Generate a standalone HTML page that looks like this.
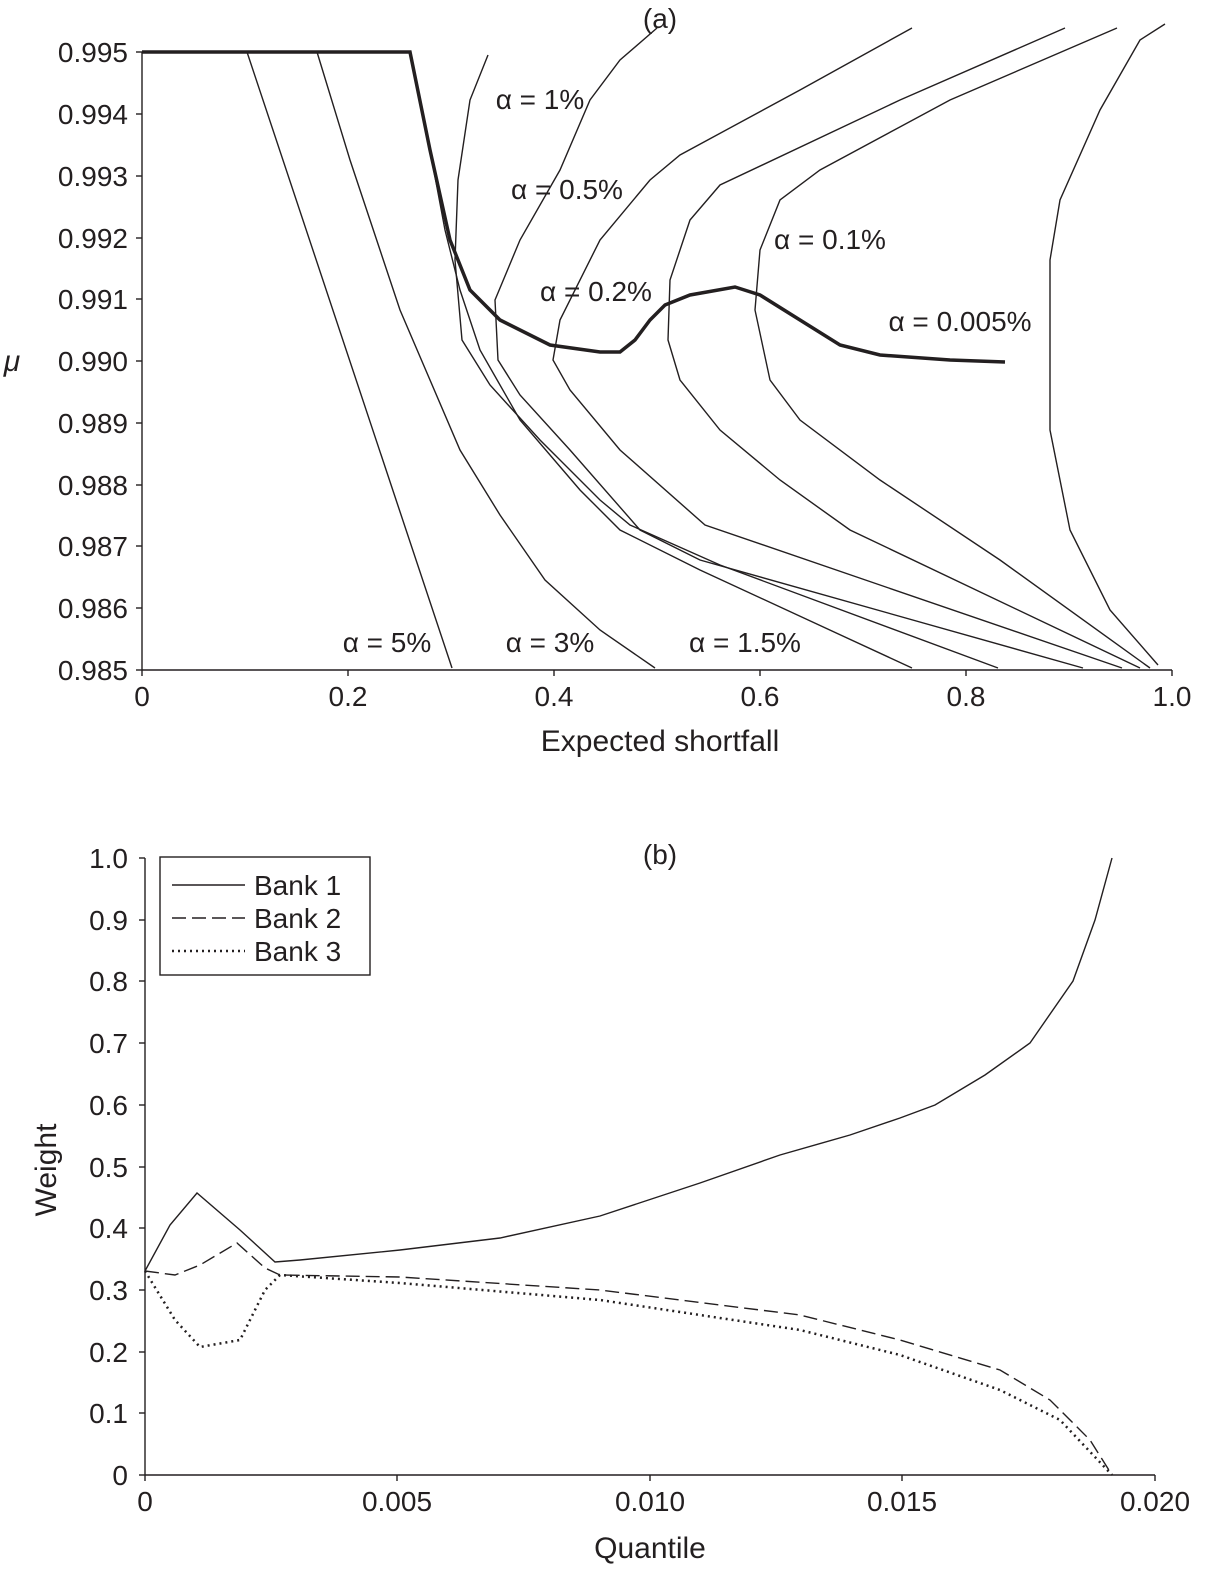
<!DOCTYPE html>
<html><head><meta charset="utf-8"><style>
html,body{margin:0;padding:0;background:#fff}
svg{display:block}
text{font-family:"Liberation Sans",sans-serif;fill:#231f20}
</style></head><body>
<svg width="1209" height="1580" viewBox="0 0 1209 1580" xmlns="http://www.w3.org/2000/svg">
<g stroke="#231f20" fill="none" stroke-width="1.4">
<line x1="142" y1="52" x2="142" y2="670"/>
<line x1="142" y1="670" x2="1172" y2="670"/>
<g>
<line x1="142" y1="52" x2="136" y2="52"/><line x1="142" y1="114" x2="136" y2="114"/><line x1="142" y1="176" x2="136" y2="176"/><line x1="142" y1="238" x2="136" y2="238"/><line x1="142" y1="299" x2="136" y2="299"/><line x1="142" y1="361" x2="136" y2="361"/><line x1="142" y1="423" x2="136" y2="423"/><line x1="142" y1="485" x2="136" y2="485"/><line x1="142" y1="546" x2="136" y2="546"/><line x1="142" y1="608" x2="136" y2="608"/><line x1="142" y1="670" x2="136" y2="670"/>
<line x1="142" y1="670" x2="142" y2="676"/><line x1="348" y1="670" x2="348" y2="676"/><line x1="554" y1="670" x2="554" y2="676"/><line x1="760" y1="670" x2="760" y2="676"/><line x1="966" y1="670" x2="966" y2="676"/><line x1="1172" y1="670" x2="1172" y2="676"/>
</g>
<polyline points="247,52 452,668"/>
<polyline points="317,52 350,160 400,310 460,450 500,515 545,580 600,630 655,668"/>
<polyline points="410,52 430,150 445,230 460,290 480,350 520,420 580,490 620,530 700,570 912,668"/>
<polyline points="488,55 470,100 458,180 455,260 462,340 490,385 540,440 600,500 630,525 720,565 998,668"/>
<polyline points="657,28 620,60 590,100 560,170 520,240 495,300 498,360 520,395 570,450 640,530 700,560 1083,668"/>
<polyline points="912,28 800,90 680,155 650,180 600,240 560,320 553,360 570,390 620,450 705,525 1122,668"/>
<polyline points="1065,28 900,100 720,185 690,220 670,280 668,340 680,380 720,430 780,480 850,530 1140,668"/>
<polyline points="1117,28 950,100 820,170 780,200 760,250 755,310 770,380 800,420 880,480 1000,560 1150,668"/>
<polyline points="1165,24 1140,40 1100,110 1060,200 1050,260 1050,430 1070,530 1110,610 1158,665"/>
<polyline stroke-width="3.5" points="142,52 410,52 430,150 450,240 470,290 500,320 550,345 600,352 620,352 635,340 650,320 665,305 690,295 735,287 760,295 800,320 840,345 880,355 950,360 1005,362"/>
<line x1="145" y1="858" x2="145" y2="1475"/>
<line x1="145" y1="1475" x2="1155" y2="1475"/>
<line x1="145" y1="858" x2="139" y2="858"/><line x1="145" y1="920" x2="139" y2="920"/><line x1="145" y1="981" x2="139" y2="981"/><line x1="145" y1="1043" x2="139" y2="1043"/><line x1="145" y1="1105" x2="139" y2="1105"/><line x1="145" y1="1167" x2="139" y2="1167"/><line x1="145" y1="1228" x2="139" y2="1228"/><line x1="145" y1="1290" x2="139" y2="1290"/><line x1="145" y1="1352" x2="139" y2="1352"/><line x1="145" y1="1413" x2="139" y2="1413"/><line x1="145" y1="1475" x2="139" y2="1475"/>
<line x1="145" y1="1475" x2="145" y2="1481"/><line x1="397" y1="1475" x2="397" y2="1481"/><line x1="650" y1="1475" x2="650" y2="1481"/><line x1="902" y1="1475" x2="902" y2="1481"/><line x1="1155" y1="1475" x2="1155" y2="1481"/>
<polyline points="145,1271 170,1225 197,1193 240,1230 275,1262 300,1260 400,1250 500,1238 600,1216 700,1183 780,1155 850,1135 900,1118 935,1105 985,1075 1030,1043 1073,981 1095,920 1112,858"/>
<polyline stroke-dasharray="14,6" points="145,1271 175,1275 200,1265 237,1243 265,1268 280,1275 400,1277 600,1290 800,1315 900,1340 1000,1370 1050,1400 1090,1440 1112,1475"/>
<polyline stroke-dasharray="2,4" stroke-width="2.5" points="145,1271 175,1320 200,1347 240,1340 265,1290 280,1275 400,1283 600,1300 800,1330 900,1355 1000,1390 1060,1420 1112,1475"/>
<rect x="160" y="857" width="210" height="118"/>
<line x1="172" y1="885" x2="245" y2="885"/>
<line x1="172" y1="918" x2="245" y2="918" stroke-dasharray="14,6"/>
<line x1="172" y1="951" x2="245" y2="951" stroke-dasharray="2,4" stroke-width="2.5"/>
</g>
<g font-size="28" text-anchor="end">
<text x="128" y="62">0.995</text><text x="128" y="124">0.994</text><text x="128" y="186">0.993</text><text x="128" y="248">0.992</text><text x="128" y="309">0.991</text><text x="128" y="371">0.990</text><text x="128" y="433">0.989</text><text x="128" y="495">0.988</text><text x="128" y="556">0.987</text><text x="128" y="618">0.986</text><text x="128" y="680">0.985</text>
<text x="128" y="868">1.0</text><text x="128" y="930">0.9</text><text x="128" y="991">0.8</text><text x="128" y="1053">0.7</text><text x="128" y="1115">0.6</text><text x="128" y="1177">0.5</text><text x="128" y="1238">0.4</text><text x="128" y="1300">0.3</text><text x="128" y="1362">0.2</text><text x="128" y="1423">0.1</text><text x="128" y="1485">0</text>
</g>
<g font-size="28" text-anchor="middle">
<text x="142" y="706">0</text><text x="348" y="706">0.2</text><text x="554" y="706">0.4</text><text x="760" y="706">0.6</text><text x="966" y="706">0.8</text><text x="1172" y="706">1.0</text>
<text x="660" y="751" font-size="30">Expected shortfall</text>
<text x="660" y="28">(a)</text>
<text x="660" y="864">(b)</text>
<text x="145" y="1511">0</text><text x="397" y="1511">0.005</text><text x="650" y="1511">0.010</text><text x="902" y="1511">0.015</text><text x="1155" y="1511">0.020</text>
<text x="650" y="1558" font-size="30">Quantile</text>
<text x="540" y="109">α = 1%</text>
<text x="567" y="199">α = 0.5%</text>
<text x="596" y="301">α = 0.2%</text>
<text x="830" y="249">α = 0.1%</text>
<text x="960" y="331">α = 0.005%</text>
<text x="387" y="652">α = 5%</text>
<text x="550" y="652">α = 3%</text>
<text x="745" y="652">α = 1.5%</text>
<text x="12" y="371" font-style="italic" font-size="30">μ</text>
<text x="0" y="0" font-size="30" transform="translate(56,1170) rotate(-90)">Weight</text>
</g>
<g font-size="28">
<text x="254" y="895">Bank 1</text><text x="254" y="928">Bank 2</text><text x="254" y="961">Bank 3</text>
</g>
</svg>
</body></html>
